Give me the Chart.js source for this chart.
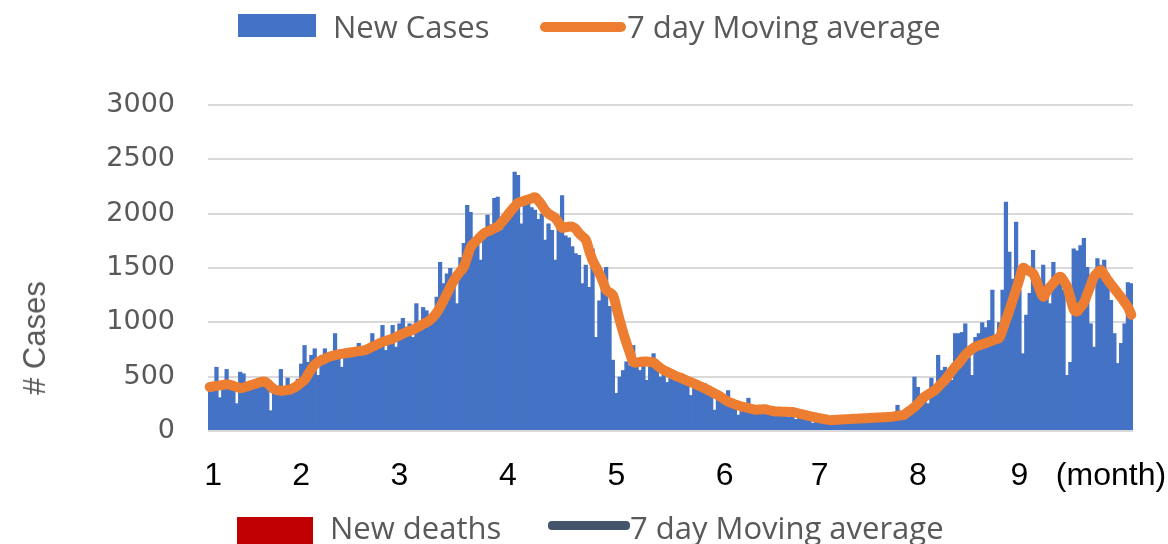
<!DOCTYPE html>
<html>
<head>
<meta charset="utf-8">
<script src="https://cdn.jsdelivr.net/npm/chart.js@4"></script>
<style>
  html, body { margin: 0; padding: 0; background: #fff; }
  #wrap { position: relative; width: 1168px; height: 544px; overflow: hidden; }
  #chart { position: absolute; left: 0; top: 0; }
  .lg { position: absolute; font-family: 'Open Sans', sans-serif; font-size: 31px; color: #595959; height: 32px; line-height: 32px; white-space: nowrap; }
  .sw { position: absolute; }
  #ytitle { position: absolute; left: 35px; top: 338px; transform: translate(-50%, -50%) rotate(-90deg);
    font-family: 'Liberation Sans', sans-serif; font-size: 31px; color: #595959; white-space: nowrap; }
</style>
</head>
<body>
<div id="wrap">
  <canvas id="chart" width="1168" height="544"></canvas>

  <div class="sw" style="left:238px; top:14px; width:78px; height:23px; background:#4472C4"></div>
  <div class="lg" style="left:333px; top:10px">New Cases</div>
  <div class="sw" style="left:540px; top:22px; width:86px; height:10px; background:#ED7D31; border-radius:5px"></div>
  <div class="lg" style="left:627px; top:10px">7 day Moving average</div>

  <div class="sw" style="left:237px; top:517px; width:76px; height:30px; background:#C00000"></div>
  <div class="lg" style="left:330px; top:511px">New deaths</div>
  <div class="sw" style="left:548px; top:521px; width:82px; height:9px; background:#44546A; border-radius:4px"></div>
  <div class="lg" style="left:630px; top:511px">7 day Moving average</div>

  <div id="ytitle"># Cases</div>
</div>

<script>
// daily values, day 0 = 1 Jan ... day 272 = 30 Sep
const newCases = [
  380, 420, 590, 310, 430, 570, 450, 400, 255, 545,
  530, 420, 380, 470, 460, 480, 470, 430, 190, 350,
  380, 570, 400, 490, 410, 440, 480, 620, 790, 635,
  700, 760, 515, 700, 760, 690, 720, 900, 700, 590,
  720, 740, 700, 760, 810, 740, 720, 780, 900, 800,
  830, 975, 745, 870, 975, 775, 990, 1040, 960, 990,
  865, 1175, 1000, 1140, 1110, 1060, 1050, 1235, 1555, 1360,
  1450, 1500, 1420, 1175, 1600, 1730, 2080, 2015, 1700, 1790,
  1575, 1850, 1990, 1900, 2145, 2155, 1850, 1960, 2005, 2050,
  2385, 2355, 1910, 2100, 2125, 2060, 2035, 1950, 2000, 1760,
  1910, 1850, 1575, 1900, 2170, 1800, 1780, 1700, 1635, 1620,
  1360, 1530, 1325, 1680, 865, 1200, 1325, 1510, 1150, 655,
  350, 500, 560, 640, 605, 790, 620, 560, 600, 470,
  620, 715, 600, 500, 560, 450, 520, 500, 460, 480,
  440, 420, 330, 430, 400, 380, 440, 400, 330, 195,
  300, 280, 260, 375, 240, 220, 150, 230, 210, 305,
  180, 165, 200, 190, 195, 170, 160, 150, 190, 140,
  165, 130, 175, 110, 150, 120, 140, 100, 75, 110,
  90, 80, 70, 85, 60, 95, 80, 70, 100, 85,
  75, 110, 90, 80, 115, 95, 85, 110, 100, 120,
  95, 130, 110, 240, 120, 150, 160, 210, 500, 405,
  330, 300, 255, 490, 420, 700, 560, 590, 540, 470,
  900, 900, 910, 990, 680, 515, 865, 900, 1000, 955,
  1020, 1300, 810, 1000, 1300, 2110, 1650, 1400, 1925, 1300,
  715, 1070, 1270, 1665, 1400, 1235, 1530, 1300, 1175, 1555,
  1410, 1450, 1300, 515, 635, 1680, 1660, 1710, 1775, 1510,
  990, 775, 1590, 1530, 1575, 1450, 1205, 900, 625, 810,
  990, 1370, 1360
];

const movingAvg = [
  405, 410, 415, 420, 425, 430, 425, 415, 405, 395,
  400, 410, 420, 430, 440, 450, 455, 440, 410, 385,
  375, 370, 372, 378, 385, 400, 420, 445, 470, 520,
  570, 610, 635, 650, 665, 680, 690, 698, 705, 710,
  715, 720, 725, 730, 735, 740, 745, 760, 775, 790,
  805, 820, 830, 840, 850, 865, 880, 895, 910, 920,
  930, 950, 965, 985, 1000, 1020, 1050, 1090, 1140, 1200,
  1260, 1325, 1380, 1430, 1470, 1510, 1600, 1690, 1730, 1760,
  1790, 1820, 1835, 1850, 1865, 1880, 1915, 1950, 1990, 2030,
  2065, 2100, 2110, 2120, 2130, 2140, 2150, 2120, 2080, 2030,
  2000, 1980, 1960, 1915, 1870, 1875, 1880, 1880, 1860, 1820,
  1790, 1760, 1660, 1570, 1510, 1450, 1380, 1300, 1275, 1250,
  1140, 1020, 910, 810, 720, 635, 630, 635, 640, 640,
  635, 630, 605, 580, 560, 545, 530, 515, 500, 490,
  475, 462, 450, 436, 422, 408, 395, 380, 362, 345,
  330, 310, 290, 270, 258, 245, 235, 225, 220, 212,
  203, 195, 197, 199, 200, 192, 185, 180, 179, 178,
  177, 176, 175, 168, 160, 152, 145, 138, 130, 124,
  118, 112, 106, 100, 101, 103, 105, 107, 108, 110,
  112, 113, 115, 117, 118, 120, 122, 124, 125, 127,
  128, 130, 135, 140, 145, 150, 175, 195, 220, 250,
  285, 315, 335, 355, 375, 405, 438, 470, 510, 550,
  590, 620, 660, 700, 730, 755, 775, 787, 798, 809,
  820, 832, 844, 855, 930, 1020, 1110, 1205, 1300, 1400,
  1500, 1485, 1468, 1450, 1380, 1300, 1235, 1280, 1325, 1360,
  1395, 1420, 1385, 1330, 1230, 1120, 1100, 1140, 1180, 1260,
  1340, 1420, 1455, 1480, 1440, 1390, 1350, 1310, 1270, 1230,
  1185, 1140, 1070
];

// where the month labels sit (day index) and what they say
const monthTickDays = [1, 27, 56, 88, 120, 152, 180, 209, 239, 266];
const monthTickLabels = ['1', '2', '3', '4', '5', '6', '7', '8', '9', '(month)'];

const days = newCases.map((v, i) => i);

const ctx = document.getElementById('chart').getContext('2d');
new Chart(ctx, {
    data: {
        labels: days,
        datasets: [
            {
                type: 'line',
                label: '7 day Moving average',
                data: movingAvg,
                borderColor: '#ED7D31',
                borderWidth: 10,
                borderCapStyle: 'round',
                borderJoinStyle: 'round',
                pointRadius: 0,
                tension: 0.4,
                order: 0
            },
            {
                type: 'bar',
                label: 'New Cases',
                data: newCases,
                backgroundColor: '#4472C4',
                borderWidth: 0,
                barPercentage: 1.25,
                categoryPercentage: 1,
                order: 1
            }
        ]
    },
    options: {
        responsive: false,
        animation: false,
        layout: { padding: { left: 0, right: 35, top: 105, bottom: 0 } },
        plugins: {
            legend: { display: false },
            tooltip: { enabled: false }
        },
        scales: {
            x: {
                grid: { display: false },
                border: { display: false },
                ticks: {
                    autoSkip: false,
                    minRotation: 0,
                    maxRotation: 0,
                    padding: 18,
                    color: '#000',
                    font: { family: 'Liberation Sans', size: 32 },
                    callback: (value, index) => {
                        const k = monthTickDays.indexOf(index);
                        return k >= 0 ? monthTickLabels[k] : '';
                    }
                },
                afterFit: (scale) => { scale.height = 113; }
            },
            y: {
                min: 0,
                max: 3000,
                ticks: {
                    stepSize: 500,
                    padding: 33,
                    color: '#595959',
                    font: { family: 'DejaVu Sans', size: 27 },
                    callback: (v) => String(v)
                },
                grid: { color: '#d9d9d9', lineWidth: 2, drawTicks: false },
                border: { display: false },
                afterFit: (scale) => { scale.width = 208; }
            }
        }
    }
});
</script>
</body>
</html>
